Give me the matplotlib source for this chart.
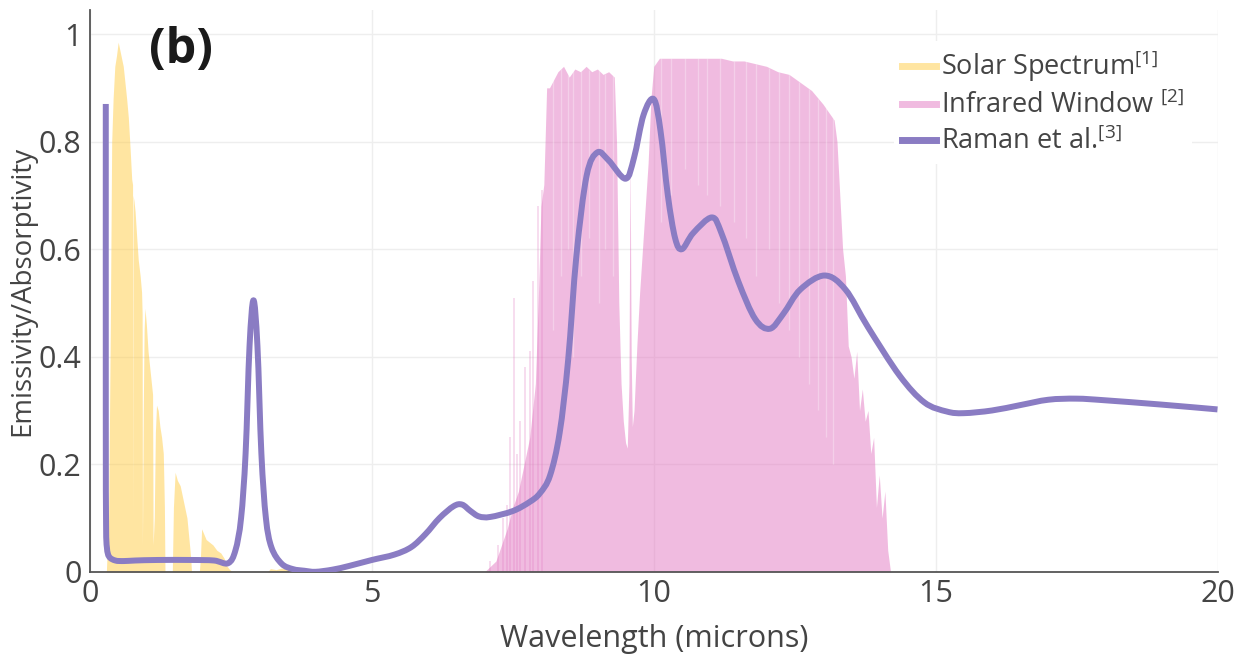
import matplotlib
matplotlib.use("Agg")
import matplotlib.pyplot as plt
import numpy as np
from matplotlib.lines import Line2D
from matplotlib.path import Path
from matplotlib.patches import PathPatch

plt.rcParams['font.family'] = ['Open Sans', 'DejaVu Sans']
plt.rcParams['mathtext.fontset'] = 'custom'
plt.rcParams['mathtext.rm'] = 'Open Sans'
plt.rcParams['mathtext.it'] = 'Open Sans'

# ---- Solar spectrum (normalized), envelope ----
solar_x = [0.29, 0.33, 0.36, 0.385, 0.41, 0.44, 0.47, 0.50, 0.53, 0.56, 0.59, 0.62, 0.65, 0.68,
           0.71, 0.74, 0.755, 0.76, 0.765, 0.78, 0.80, 0.83, 0.856, 0.89, 0.915, 0.925, 0.93,
           0.945, 0.96, 0.975, 1.00, 1.03, 1.06, 1.09, 1.11, 1.12, 1.14, 1.16, 1.18, 1.21,
           1.24, 1.27, 1.30, 1.32, 1.33, 1.40, 1.46, 1.48, 1.51, 1.55, 1.60, 1.64, 1.68,
           1.72, 1.77, 1.79, 1.80, 1.90, 1.94, 1.96, 1.98, 2.02, 2.06, 2.12, 2.18, 2.25,
           2.32, 2.38, 2.42, 2.47, 2.52, 3.15, 3.2, 3.3, 3.4, 3.5, 3.6, 3.7, 3.8, 3.9]
solar_y = [0.0, 0.10, 0.45, 0.80, 0.88, 0.94, 0.96, 0.985, 0.97, 0.955, 0.94, 0.91, 0.88, 0.845,
           0.79, 0.73, 0.72, 0.10, 0.70, 0.69, 0.67, 0.62, 0.58, 0.55, 0.52, 0.48, 0.05,
           0.30, 0.45, 0.49, 0.46, 0.41, 0.38, 0.35, 0.33, 0.05, 0.10, 0.26, 0.31, 0.30,
           0.27, 0.25, 0.22, 0.12, 0.0, 0.0, 0.0, 0.12, 0.185, 0.17, 0.16, 0.14, 0.12,
           0.10, 0.045, 0.02, 0.0, 0.0, 0.0, 0.03, 0.08, 0.07, 0.06, 0.055, 0.05, 0.04,
           0.035, 0.025, 0.012, 0.005, 0.0, 0.0, 0.006, 0.004, 0.007, 0.005, 0.006, 0.004, 0.003, 0.0]

# ---- Atmospheric infrared window transmittance, envelope ----
ir_x = [7.00, 7.20, 7.30, 7.40, 7.50, 7.60, 7.70, 7.80, 7.90, 7.95, 8.00, 8.05, 8.10, 8.15,
        8.20, 8.30, 8.40, 8.50, 8.60, 8.70, 8.80, 8.90, 9.00, 9.10, 9.20, 9.30, 9.34, 9.38,
        9.42, 9.46, 9.50, 9.53, 9.56, 9.58, 9.60, 9.62, 9.65, 9.70, 9.75, 9.80, 9.85, 9.90,
        9.95, 10.00, 10.10, 10.20, 10.40, 10.60, 10.80, 11.00, 11.20, 11.40, 11.60, 11.80,
        12.00, 12.20, 12.40, 12.60, 12.80, 13.00, 13.10, 13.20, 13.25, 13.30, 13.35, 13.40,
        13.45, 13.50, 13.55, 13.60, 13.65, 13.70, 13.75, 13.80, 13.85, 13.90, 13.95, 14.00,
        14.05, 14.10, 14.15, 14.20]
ir_y = [0.0, 0.02, 0.05, 0.08, 0.12, 0.15, 0.20, 0.25, 0.35, 0.50, 0.68, 0.72, 0.90, 0.90,
        0.91, 0.93, 0.94, 0.92, 0.935, 0.93, 0.94, 0.93, 0.935, 0.925, 0.93, 0.92, 0.80, 0.50,
        0.35, 0.28, 0.24, 0.23, 0.35, 0.78, 0.40, 0.27, 0.30, 0.42, 0.52, 0.60, 0.68, 0.76,
        0.88, 0.94, 0.955, 0.955, 0.955, 0.955, 0.955, 0.955, 0.955, 0.95, 0.95, 0.945,
        0.94, 0.93, 0.925, 0.91, 0.895, 0.87, 0.855, 0.84, 0.80, 0.70, 0.60, 0.55,
        0.42, 0.40, 0.36, 0.41, 0.30, 0.34, 0.28, 0.30, 0.22, 0.25, 0.12, 0.18,
        0.10, 0.15, 0.04, 0.0]

# isolated narrow transmission spikes on the short-wave edge of the window
ir_spike_x = [7.09, 7.23, 7.33, 7.39, 7.45, 7.52, 7.57, 7.62, 7.71, 7.80, 7.86, 7.94, 8.01]
ir_spike_y = [0.02, 0.05, 0.10, 0.125, 0.25, 0.51, 0.22, 0.28, 0.38, 0.41, 0.54, 0.68, 0.71]

# thin absorption lines inside the window (wavelength, floor of the dip)
ir_line_x = [8.22, 8.35, 8.48, 8.57, 8.71, 8.86, 9.02, 9.13, 9.27, 10.12, 10.31, 10.55,
             10.78, 10.95, 11.18, 11.42, 11.63, 11.82, 12.05, 12.22, 12.40, 12.58, 12.75,
             12.92, 13.05, 13.18]
ir_line_y = [0.45, 0.55, 0.60, 0.40, 0.55, 0.62, 0.50, 0.60, 0.55, 0.65, 0.70, 0.75,
             0.72, 0.70, 0.68, 0.65, 0.62, 0.55, 0.60, 0.50, 0.45, 0.40, 0.35, 0.30, 0.25, 0.20]

# ---- Raman et al. emissivity curve ----
raman_x = [0.28, 0.28, 0.285, 0.30, 0.34, 0.45, 0.60, 0.80, 1.20, 1.80, 2.20, 2.45, 2.58,
           2.68, 2.76, 2.83, 2.90, 2.97, 3.04, 3.12, 3.22, 3.40, 3.60, 3.80, 4.00,
           4.30, 4.60, 5.00, 5.40, 5.70, 5.95, 6.20, 6.45, 6.60, 6.75, 6.90, 7.10, 7.50,
           7.80, 7.98, 8.16, 8.33, 8.48, 8.63, 8.81, 9.00, 9.20, 9.50, 9.65, 9.82, 10.00,
           10.12, 10.25, 10.38, 10.50, 10.70, 11.03, 11.20, 11.50, 11.80, 12.06, 12.30,
           12.60, 13.03, 13.40, 13.80, 14.36, 14.80, 15.20, 15.50, 16.00, 16.50, 17.00,
           17.50, 18.00, 19.00, 20.00]
raman_y = [0.87, 0.30, 0.09, 0.045, 0.028, 0.021, 0.020, 0.021, 0.022, 0.022, 0.021, 0.016,
           0.040, 0.10, 0.22, 0.42, 0.505, 0.42, 0.22, 0.10, 0.045, 0.015, 0.005,
           0.002, 0.0, 0.004, 0.011, 0.022, 0.032, 0.046, 0.070, 0.100, 0.122, 0.125,
           0.113, 0.103, 0.102, 0.113, 0.130, 0.146, 0.179, 0.258, 0.392, 0.590, 0.737,
           0.780, 0.765, 0.731, 0.770, 0.850, 0.879, 0.820, 0.700, 0.620, 0.600, 0.630,
           0.659, 0.630, 0.540, 0.470, 0.452, 0.480, 0.525, 0.551, 0.525, 0.455, 0.365,
           0.315, 0.298, 0.295, 0.300, 0.310, 0.320, 0.322, 0.319, 0.311, 0.302]

legend_labels = ['Solar Spectrum$^{[1]}$', 'Infrared Window $^{[2]}$', 'Raman et al.$^{[3]}$']
x_ticks = [0, 5, 10, 15, 20]
y_ticks = [0, 0.2, 0.4, 0.6, 0.8, 1.0]
y_tick_labels = ['0', '0.2', '0.4', '0.6', '0.8', '1']

SOLAR_C = (1.0, 0.80, 0.27, 0.5)
IR_C = (0.89, 0.47, 0.76, 0.5)
IR_SPIKE_C = (0.89, 0.47, 0.76, 0.3)
LINE_C = '#8A7CC3'
TXT_C = '#444444'


def spline_path(xs, ys):
    """Smooth (Catmull-Rom as cubic Bezier) path through the given points."""
    P = np.column_stack([xs, ys]).astype(float)
    n = len(P)
    verts = [P[0]]
    codes = [Path.MOVETO]
    for i in range(n - 1):
        p0 = P[i - 1] if i > 0 else P[i]
        p1, p2 = P[i], P[i + 1]
        p3 = P[i + 2] if i + 2 < n else P[i + 1]
        c1 = p1 + (p2 - p0) / 6.0
        c2 = p2 - (p3 - p1) / 6.0
        verts += [c1, c2, p2]
        codes += [Path.CURVE4] * 3
    return Path(verts, codes)


fig = plt.figure(figsize=(12.5, 6.58), dpi=100)
ax = fig.add_axes([0.072, 0.131, 0.902, 0.854])

ax.fill_between(solar_x, 0, solar_y, color=SOLAR_C, linewidth=0, zorder=2)
ax.fill_between(ir_x, 0, ir_y, color=IR_C, linewidth=0, zorder=2)
ax.vlines(ir_spike_x, 0, ir_spike_y, colors=[IR_SPIKE_C], linewidth=1.2, zorder=2)
env = np.interp(ir_line_x, ir_x, ir_y)
ax.vlines(ir_line_x, ir_line_y, env, colors=[(1, 1, 1, 0.3)], linewidth=1.0, zorder=2.5)

ax.add_patch(PathPatch(spline_path(raman_x, raman_y), facecolor='none', edgecolor=LINE_C,
                       linewidth=4.3, capstyle='butt', joinstyle='round', zorder=4))

ax.set_xlim(0, 20)
ax.set_ylim(0, 1.045)
ax.set_xticks(x_ticks)
ax.set_xticklabels([str(t) for t in x_ticks])
ax.set_yticks(y_ticks)
ax.set_yticklabels(y_tick_labels)
ax.tick_params(axis='both', length=0, labelsize=22, colors=TXT_C)
ax.tick_params(axis='x', pad=5)
ax.tick_params(axis='y', pad=6)
ax.grid(True, color='#eeeeee', linewidth=1.0, zorder=0)
ax.set_axisbelow(True)
for s in ['top', 'right']:
    ax.spines[s].set_visible(False)
for s in ['left', 'bottom']:
    ax.spines[s].set_color('#555555')
    ax.spines[s].set_linewidth(1.3)

ax.set_xlabel('Wavelength (microns)', fontsize=22, color=TXT_C, labelpad=11)
ax.set_ylabel('Emissivity/Absorptivity', fontsize=20, color=TXT_C, labelpad=2)

fig.text(0.119, 1 - 26 / 658, '(b)', fontsize=35, fontweight='bold',
         color='#1a1a1a', va='top', ha='left')

handles = [Line2D([], [], color=SOLAR_C, linewidth=5),
           Line2D([], [], color=IR_C, linewidth=5),
           Line2D([], [], color=LINE_C, linewidth=5)]
leg = ax.legend(handles, legend_labels, loc='upper left', bbox_to_anchor=(0.715, 0.938),
                bbox_transform=fig.transFigure,
                fontsize=19.5, frameon=True, framealpha=1.0, edgecolor='none', facecolor='white',
                handlelength=1.25, handletextpad=0.2, labelspacing=0.27, borderpad=0.3,
                borderaxespad=0, fancybox=False, labelcolor=TXT_C)
leg.set_zorder(5)

fig.savefig('out.png', dpi=100)
